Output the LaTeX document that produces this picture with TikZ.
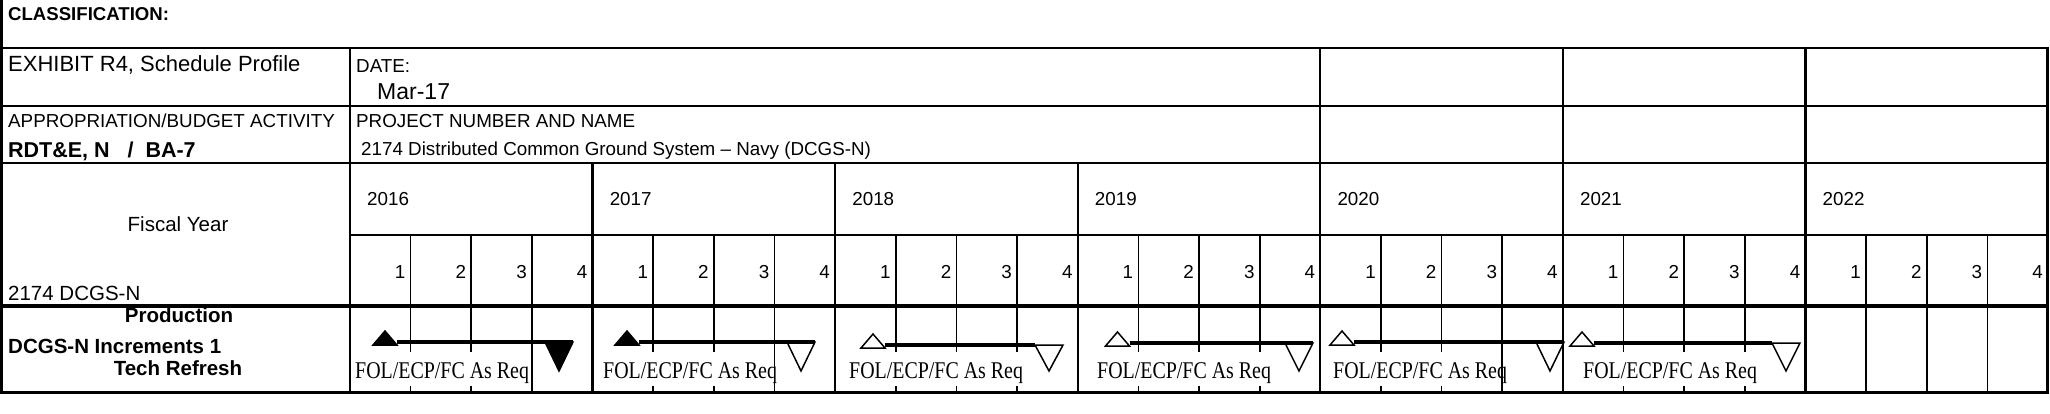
\documentclass[tikz,border=0pt]{standalone}
\usepackage{fontspec}
\usepackage{graphicx}
\setmainfont{Liberation Serif}
\newfontfamily\arialf{Liberation Sans}
\tikzset{
  lbl/.style={font=\arialf\fontsize{18.8}{20}\selectfont, inner sep=0pt, anchor=base west},
  bigl/.style={font=\arialf\fontsize{22}{24}\selectfont, inner sep=0pt, anchor=base west},
  bldl/.style={font=\arialf\bfseries\fontsize{20.5}{22}\selectfont, inner sep=0pt},
  midl/.style={font=\arialf\fontsize{20.5}{22}\selectfont, inner sep=0pt},
  qnum/.style={font=\arialf\fontsize{18.8}{20}\selectfont, inner sep=0pt, anchor=base east},
  foltxt/.style={font=\fontsize{24}{26}\selectfont, inner sep=0pt, anchor=base west},
  yearline/.style={line width=2.2pt},
  qline/.style={line width=1.7pt},
  tri/.style={draw=black, line width=1.5pt, line join=miter},
  barl/.style={line width=4.5pt},
}
\begin{document}
\begin{tikzpicture}[x=1pt,y=-1pt]
\useasboundingbox (0,0) rectangle (2050,413);
% quarter lines
\foreach \k in {0,...,6}{
  \foreach \q in {1,2,3}{
    \draw[qline] ({350+242.571*\k+60.643*\q},235) -- ({350+242.571*\k+60.643*\q},392);
  }
}
% year lines (lower part)
\foreach \k in {1,...,6}{
  \draw[yearline] ({350+242.571*\k},163) -- ({350+242.571*\k},392);
}
% year lines in date/project rows
\foreach \xx in {1320.3,1562.9,1805.4}{
  \draw[yearline] (\xx,48) -- (\xx,163);
}
% left column divider
\draw[yearline] (350,48) -- (350,392);
% horizontal lines
\draw[line width=2.6pt] (0,48) -- (2049,48);
\draw[line width=2.4pt] (0,106) -- (2049,106);
\draw[line width=2.4pt] (0,163) -- (2049,163);
\draw[line width=1.4pt] (350,235) -- (2049,235);
\draw[line width=3.6pt] (0,306) -- (2049,306);
\draw[line width=3pt] (0,392) -- (2049,392);
% outer borders
\draw[line width=3pt] (1.5,0) -- (1.5,393.5);
\draw[line width=3pt] (2047.5,46.7) -- (2047.5,393.5);

% header texts
\node[font=\arialf\bfseries\fontsize{18.6}{20}\selectfont, inner sep=0pt, anchor=base west] (cls) at (8,20) {CLASSIFICATION:};
\node[bigl] (exh) at (8,71) {EXHIBIT R4, Schedule Profile};
\node[lbl] (date) at (356,72) {DATE:};
\node[font=\arialf\fontsize{23}{25}\selectfont, inner sep=0pt, anchor=base west] (mar) at (377,99) {Mar-17};
\node[lbl] (appr) at (8,127) {APPROPRIATION/BUDGET ACTIVITY};
\node[lbl] (proj) at (356,127) {PROJECT NUMBER AND NAME};
\node[font=\arialf\bfseries\fontsize{21.5}{23}\selectfont, inner sep=0pt, anchor=base west] (rdt) at (8,157) {RDT\&E, N\ \ \ /\ \ BA-7};
\node[lbl] (pname) at (361,155) {2174 Distributed Common Ground System – Navy (DCGS-N)};
\node[midl, anchor=base] (fy) at (178,231) {Fiscal Year};
\node[midl, anchor=base west] (dcgs) at (8,300) {2174 DCGS-N};
\node[bldl, anchor=base] (prod) at (179,322) {Production};
\node[bldl, anchor=base west] (inc) at (8,353) {DCGS-N Increments 1};
\node[bldl, anchor=base] (tech) at (178,375) {Tech Refresh};

% year labels and quarter numbers
\foreach \yr [count=\k from 0] in {2016,2017,2018,2019,2020,2021,2022}{
  \node[lbl] (y\yr) at ({350+242.571*\k+17},205) {\yr};
  \foreach \q in {1,...,4}{
    \node[qnum] (q\yr\q) at ({350+242.571*\k+60.643*\q-5},278) {\q};
  }
}

% bars
\foreach \a/\e/\yb/\fu/\fd/\be/\ts/\bw [count=\i] in {
  385/573/342/black/black/573/355/176,
  627/815/342/black/white/815/603/170,
  873/1063/345/white/white/1035/849/172,
  1117.5/1313/343/white/white/1313/1097/172,
  1342/1564/342/white/white/1564/1333/166,
  1582/1800/343/white/white/1772/1583/172}{
  \fill[white] (\ts-1,352) rectangle (\ts+\bw,386);
  \draw[tri, fill=\fd] (\e-28,\yb) -- (\e,\yb) -- (\e-14,371) -- cycle;
  \coordinate (bs\i) at (\a+12,\yb);
  \coordinate (be\i) at (\be,\yb);
  \draw[barl] (bs\i) -- (be\i);
  \draw[tri, fill=\fu] (\a,\yb-11) -- (\a-12,\yb+3) -- (\a+12,\yb+3) -- cycle;
  \node[foltxt] (fol\i) at (\ts,378) {\scalebox{0.83}[1]{FOL/ECP/FC As Req}};
}
\end{tikzpicture}
\end{document}
